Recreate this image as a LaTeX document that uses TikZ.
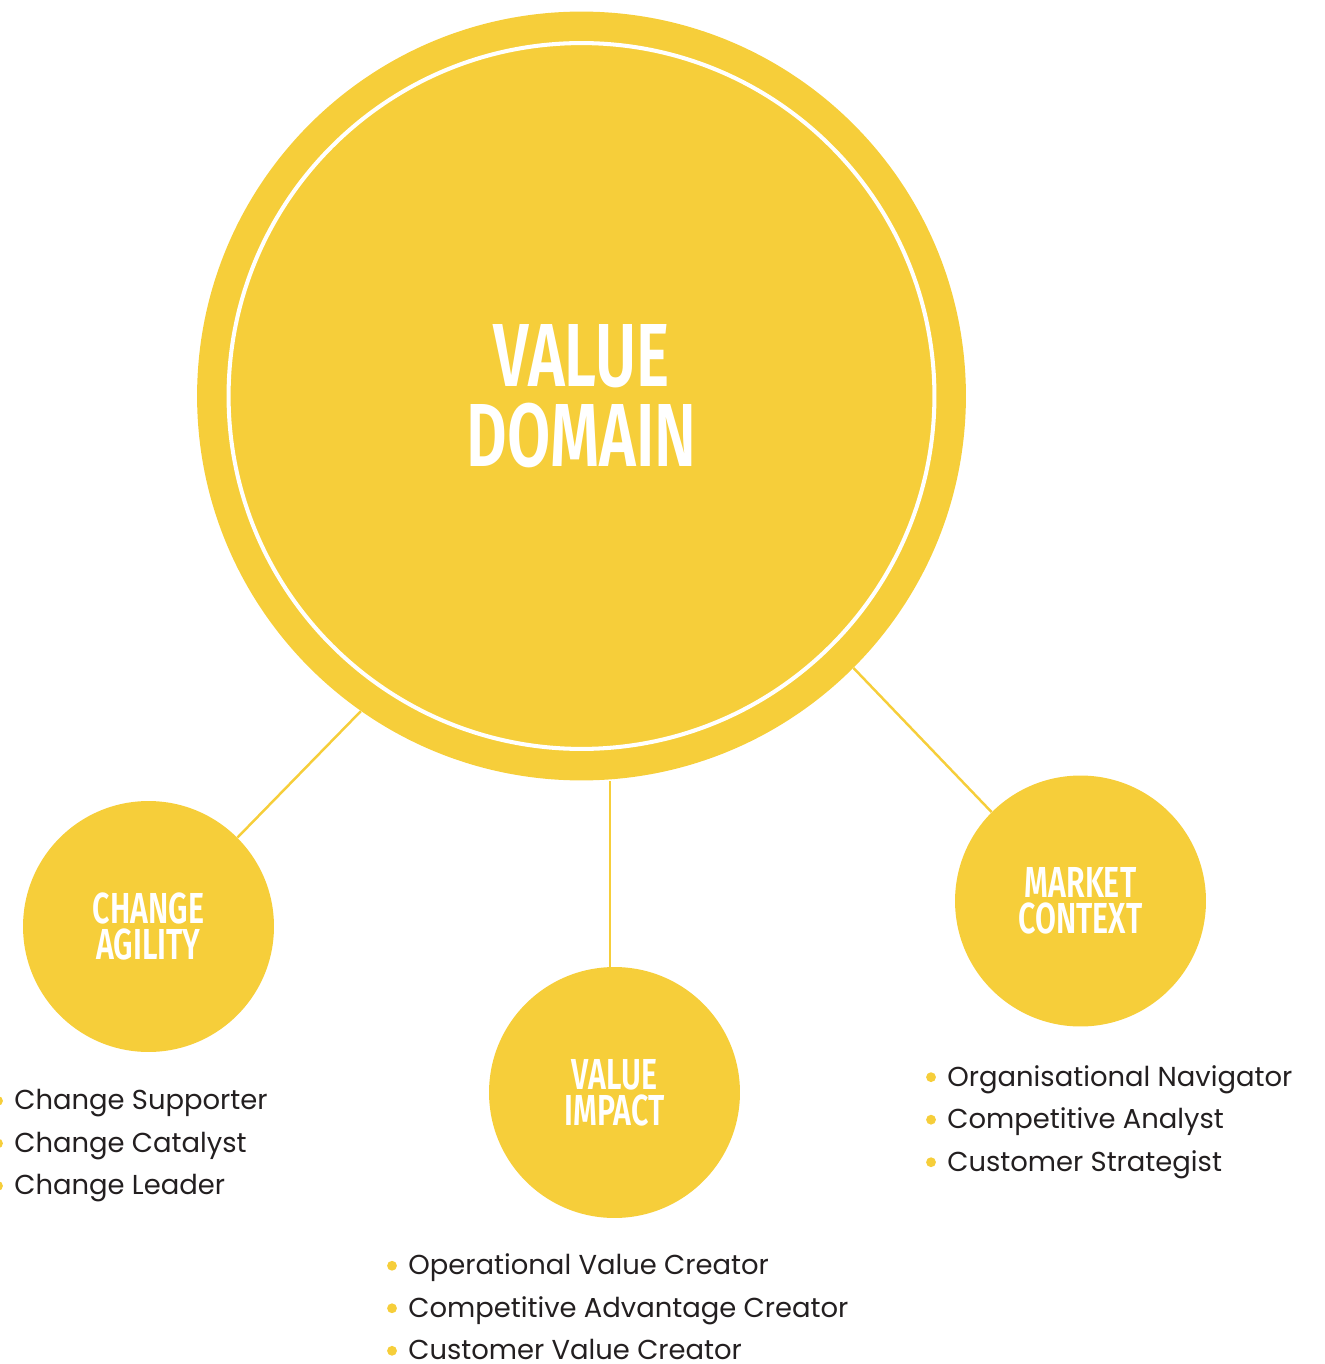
\documentclass[tikz,border=0pt]{standalone}
\usepackage{fontspec}
\setmainfont{Poppins}
\newfontfamily\headfont[FakeStretch=0.7]{Fira Sans SemiBold}
\usetikzlibrary{positioning}
\definecolor{valueyellow}{HTML}{F6CE3A}
\definecolor{rolegrey}{HTML}{231F20}
% one line of a role list, with its yellow dot hanging to the left
\newcommand{\roleline}[1]{\llap{\tikz[baseline=-0.33em]\fill[valueyellow] (0,0) circle (2.8pt);\hspace{6.5pt}}#1}

\begin{document}
\begin{tikzpicture}[x=0.02cm, y=-0.02cm,
  hub/.style={circle, fill=valueyellow, inner sep=0pt, minimum size=15.38cm,
    text=white, align=center, font=\headfont\fontsize{51}{45.4}\selectfont},
  pillar/.style={circle, fill=valueyellow, inner sep=0pt, minimum size=5.02cm,
    text=white, align=center, font=\headfont\fontsize{24.7}{20.6}\selectfont},
  link/.style={draw=valueyellow, line width=1.4pt},
  roles/.style={anchor=west, inner sep=0pt, align=left, text=rolegrey,
    font=\fontsize{15.6}{24.2}\selectfont}]
  \useasboundingbox (0,0) rectangle (1324,1364);

  % centre circle and its white ring
  \node[hub] (domain) at (581.5,396) {VALUE\\DOMAIN};
  \draw[white, line width=2.3pt] (domain.center) circle[radius=7.06cm];

  % the three pillars
  \node[pillar] (agility) at (148.5,926.5) {CHANGE\\AGILITY};
  \node[pillar] (impact) at (614.5,1092.5) {VALUE\\IMPACT};
  \node[pillar] (market) at (1080.5,901) {MARKET\\CONTEXT};

  \draw[link] (domain.235) -- (agility.45);
  \draw[link] (domain.315) -- (market.135);
  \draw[link] (impact.92) -- (impact.92 |- domain.south);

  % role lists under each pillar
  \node[roles] (agility roles) at (14,1146) {\roleline{Change Supporter}\\
    \roleline{Change Catalyst}\\ \roleline{Change Leader}};
  \node[roles] (impact roles) at (408,1307) {\roleline{Operational Value Creator}\\
    \roleline{Competitive Advantage Creator}\\ \roleline{Customer Value Creator}};
  \node[roles] (market roles) at (947,1122) {\roleline{Organisational Navigator}\\
    \roleline{Competitive Analyst}\\ \roleline{Customer Strategist}};
\end{tikzpicture}
\end{document}
